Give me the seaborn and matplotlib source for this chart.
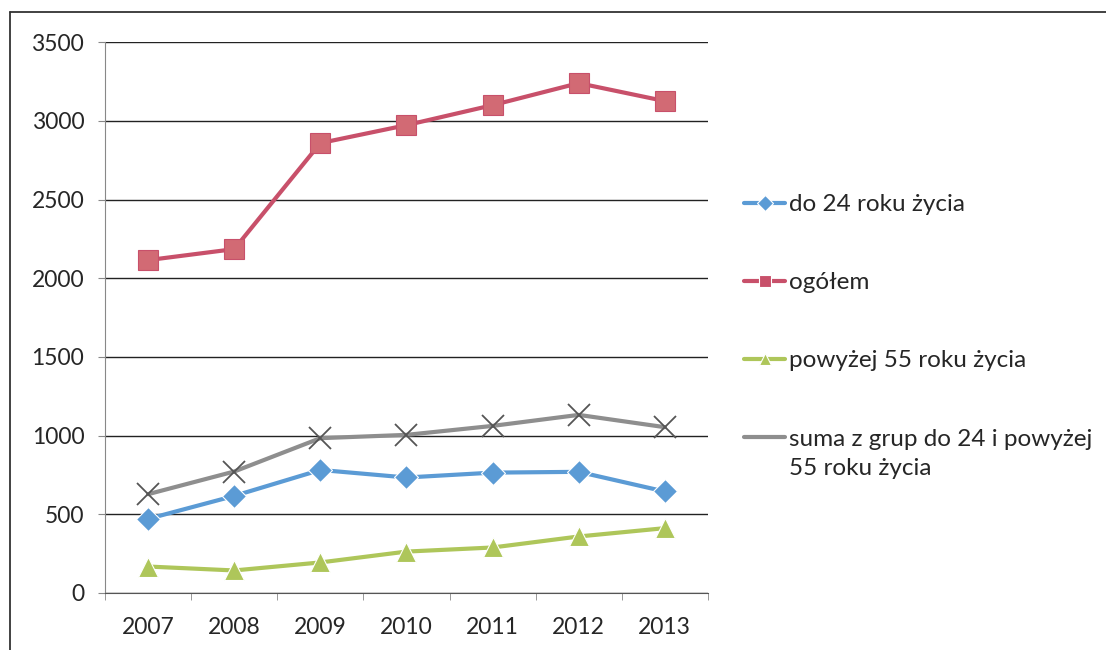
import pandas as pd
import matplotlib.pyplot as plt
import seaborn as sns
from matplotlib.lines import Line2D

# Data
years = ["2007", "2008", "2009", "2010", "2011", "2012", "2013"]
do_24 = [470, 616, 781, 733, 764, 769, 644]
ogolem = [2115, 2185, 2859, 2973, 3100, 3240, 3126]
powyzej_55 = [167, 142, 193, 262, 288, 358, 411]
suma = [627, 771, 983, 1004, 1061, 1131, 1053]

labels = ["do 24 roku życia", "ogółem", "powyżej 55 roku życia",
          "suma z grup do 24 i powyżej"]
label_tail = "55 roku życia"
colors = ["#5b9bd5", "#c8506a", "#aec65a", "#8e8e8e"]
markers = ["D", "s", "^", "X"]

rows = []
for label, vals in zip(labels, [do_24, ogolem, powyzej_55, suma]):
    for y, v in zip(years, vals):
        rows.append({"rok": y, "liczba": v, "seria": label})
df = pd.DataFrame(rows)

sns.set_style("white")
plt.rcParams['font.family'] = ['Lato', 'DejaVu Sans']

fig = plt.figure(figsize=(11.06, 6.5), dpi=100)
ax = fig.add_axes([0.095, 0.088, 0.545, 0.847])

# outer chart frame (left and top edges visible in the scan)
fig.lines.append(Line2D([0.009, 0.009], [0, 0.981], transform=fig.transFigure,
                        color="#333333", linewidth=1.3))
fig.lines.append(Line2D([0.009, 1.0], [0.981, 0.981], transform=fig.transFigure,
                        color="#333333", linewidth=1.3))

sns.lineplot(data=df, x="rok", y="liczba", hue="seria", style="seria",
             palette=colors, markers=markers, dashes=False, linewidth=3,
             markersize=12, markeredgewidth=0.8, ax=ax, sort=False)

for line, lab in zip(ax.lines, labels):
    if lab.startswith("suma"):
        line.set_marker("x")
        line.set_markersize(16)
        line.set_markeredgewidth(1.3)
        line.set_markeredgecolor("#555555")
    elif lab == "ogółem":
        line.set_markerfacecolor("#d26a74")
        line.set_markeredgecolor("#c8506a")
        line.set_markersize(15)
    elif lab.startswith("powyżej"):
        line.set_markersize(14)

ax.set_xlim(-0.5, 6.5)
ax.set_ylim(0, 3500)
ax.set_yticks(range(0, 3501, 500))
ax.yaxis.grid(True, color="#222222", linewidth=1)
ax.xaxis.grid(False)
ax.set_xlabel("")
ax.set_ylabel("")
for s in ["top", "right"]:
    ax.spines[s].set_visible(False)
ax.spines["left"].set_color("#888888")
ax.spines["bottom"].set_color("#555555")
ax.tick_params(axis="y", left=True, length=5, color="#888888", labelsize=16.5, pad=10)
ax.tick_params(axis="x", bottom=False, labelsize=16.5, pad=14)
# category separator ticks on x axis
ax.set_xticks([i + 0.5 for i in range(-1, 7)], minor=True)
ax.tick_params(axis="x", which="minor", bottom=True, length=5, color="#888888")

handles, labs = ax.get_legend_handles_labels()
for h, lab in zip(handles, labs):
    if lab.startswith("suma"):
        h.set_marker("")
leg = ax.legend(handles, labs, loc="upper left", bbox_to_anchor=(0.653, 0.735),
                bbox_transform=fig.transFigure, frameon=False, fontsize=17.5,
                handlelength=1.7, handletextpad=0.15, labelspacing=2.35,
                markerscale=0.7)

# second line of the last legend label, aligned under the first
fig.canvas.draw()
bb = leg.get_texts()[-1].get_window_extent().transformed(fig.transFigure.inverted())
fig.text(bb.x0, bb.y0 - 0.045, label_tail, fontsize=17.5, va="bottom", ha="left")

fig.savefig("out.png", dpi=100)
